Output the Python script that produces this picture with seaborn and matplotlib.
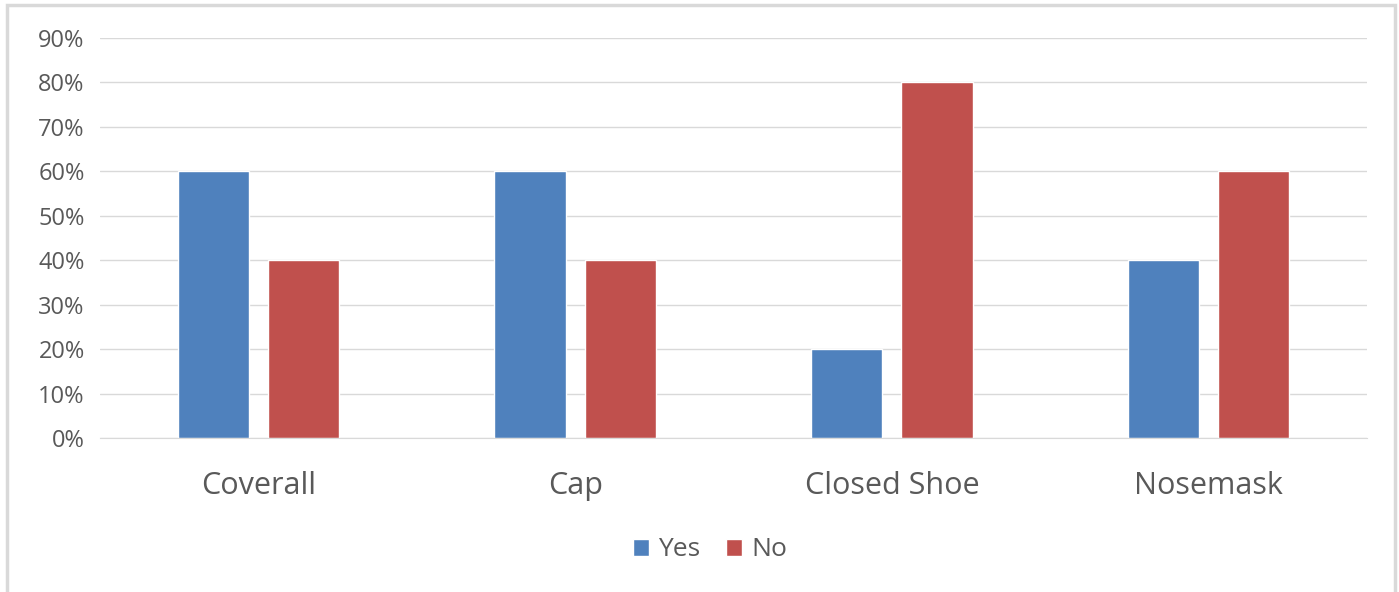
import pandas as pd
import matplotlib.pyplot as plt
import matplotlib.patches as patches
import seaborn as sns
from matplotlib.ticker import PercentFormatter

# PPE usage survey results
items = ['Coverall', 'Cap', 'Closed Shoe', 'Nosemask']
yes_vals = [0.60, 0.60, 0.20, 0.40]
no_vals = [0.40, 0.40, 0.80, 0.60]
answers = ['Yes', 'No']
y_ticks = [0, 0.1, 0.2, 0.3, 0.4, 0.5, 0.6, 0.7, 0.8, 0.9]

df = pd.DataFrame({'Item': items * 2,
                   'Answer': ['Yes'] * len(items) + ['No'] * len(items),
                   'Share': yes_vals + no_vals})

sns.set_style('white')
plt.rcParams['font.family'] = ['Open Sans', 'DejaVu Sans']

W, H = 1399, 592
fig = plt.figure(figsize=(W / 100, H / 100), dpi=100)
ax = fig.add_axes([100 / W, 1 - 438 / H, 1267 / W, 400 / H])

sns.barplot(data=df, x='Item', y='Share', hue='Answer', hue_order=answers,
            order=items, palette=['#4F81BD', '#C0504D'], width=0.57, gap=0.21,
            saturation=1, ax=ax)

ax.set_ylim(0, 0.9)
ax.set_xlim(-0.5, len(items) - 0.5)
ax.set_yticks(y_ticks)
ax.yaxis.set_major_formatter(PercentFormatter(1.0, decimals=0))
ax.grid(axis='y', color='#D9D9D9', linewidth=1)
ax.set_axisbelow(True)
for s in ['top', 'right', 'left']:
    ax.spines[s].set_visible(False)
ax.spines['bottom'].set_color('#D9D9D9')
ax.tick_params(axis='y', length=0, labelsize=17, labelcolor='#595959', pad=11)
ax.tick_params(axis='x', length=0, labelsize=22, labelcolor='#595959', pad=24)
ax.set_xlabel('')
ax.set_ylabel('')

handles, labels = ax.get_legend_handles_labels()
ax.get_legend().remove()
fig.legend(handles, labels, loc='center', bbox_to_anchor=(710 / W, 1 - 550 / H),
           ncol=2, frameon=False, fontsize=19, handlelength=0.6, handleheight=0.6,
           handletextpad=0.35, columnspacing=1.0, labelcolor='#595959')

# chart frame
fig.patches.append(patches.Rectangle((7 / W, -0.05), 1388 / W, 1.05 - 5 / H,
                                     transform=fig.transFigure, fill=False,
                                     edgecolor='#D9D9D9', linewidth=2.5))

fig.savefig('out.png', dpi=100)
